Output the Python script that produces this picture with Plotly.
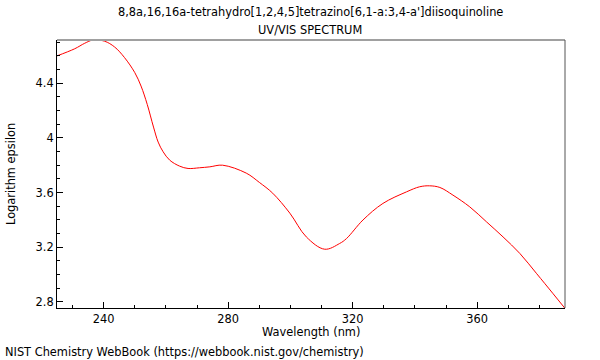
import plotly.graph_objects as go

wavelength = [224.9, 230.7, 233.9, 236.6, 240.3, 243.5, 246.7, 250.0, 252.0, 254.0, 256.0,
              257.5, 259.1, 261.2, 264.4, 267.1, 270.8, 274.1, 278.2, 285.8, 290.0, 294.3, 299.8,
              305.1, 311.0, 315.8, 318.0, 323.3, 329.7, 337.3, 341.5, 344.7, 348.0, 352.2,
              357.6, 363.0, 368.3, 373.7, 379.0, 384.4, 388.1]
log_eps = [4.600, 4.653, 4.693, 4.717, 4.708, 4.666, 4.588, 4.478, 4.38, 4.245, 4.08,
           3.97, 3.899, 3.838, 3.794, 3.777, 3.782, 3.789, 3.801, 3.743, 3.675, 3.596, 3.450,
           3.276, 3.186, 3.228, 3.264, 3.400, 3.521, 3.606, 3.643, 3.650, 3.638, 3.582,
           3.496, 3.386, 3.276, 3.155, 3.010, 2.860, 2.756]

x_ticks = [240, 280, 320, 360]
y_ticks = [2.8, 3.2, 3.6, 4.0, 4.4]
y_tick_labels = ["2.8", "3.2", "3.6", "4", "4.4"]

title_line1 = "8,8a,16,16a-tetrahydro[1,2,4,5]tetrazino[6,1-a:3,4-a']diisoquinoline"
title_line2 = "UV/VIS SPECTRUM"
x_title = "Wavelength (nm)"
y_title = "Logarithm epsilon"
footer = "NIST Chemistry WebBook (https://webbook.nist.gov/chemistry)"

W, H = 600, 360
ML, MR, MT, MB = 57, 35, 40, 52
PW, PH = W - ML - MR, H - MT - MB
FS = 11.4


def px_x(px):
    return (px - ML) / PW


def px_y(py):
    return (H - MB - py) / PH


fig = go.Figure()
fig.add_trace(go.Scatter(x=wavelength, y=log_eps, mode="lines",
                         line=dict(color="#ff0000", width=1, shape="spline", smoothing=1.0),
                         hoverinfo="skip", showlegend=False))

fig.update_layout(
    width=W, height=H,
    margin=dict(l=ML, r=MR, t=MT, b=MB, autoexpand=False),
    paper_bgcolor="white", plot_bgcolor="white",
    font=dict(family="DejaVu Sans", size=FS, color="black"),
    showlegend=False,
    xaxis=dict(range=[225, 388.2], tickvals=x_ticks, ticktext=[str(v) for v in x_ticks],
               ticks="inside", ticklen=6, tickcolor="black", tickwidth=1,
               minor=dict(dtick=10, tick0=0, ticks="inside", ticklen=3, tickcolor="black"),
               showgrid=False, zeroline=False, showline=True, linecolor="black", linewidth=1,
               automargin=False, tickfont=dict(size=FS)),
    yaxis=dict(range=[2.756, 4.717], tickvals=y_ticks, ticktext=y_tick_labels,
               ticks="inside", ticklen=6, tickcolor="black", tickwidth=1,
               minor=dict(dtick=0.1, tick0=0, ticks="inside", ticklen=3, tickcolor="black"),
               showgrid=False, zeroline=False, showline=True, linecolor="black", linewidth=1,
               automargin=False, tickfont=dict(size=FS)),
    shapes=[
        dict(type="line", xref="paper", yref="paper", x0=0, x1=1, y0=1, y1=1,
             line=dict(color="#a0a0a0", width=2)),
        dict(type="line", xref="paper", yref="paper", x0=1, x1=1, y0=0, y1=1,
             line=dict(color="#555555", width=1)),
    ],
)

anns = [
    dict(text=title_line1, x=px_x(310), y=px_y(12), xanchor="center"),
    dict(text=title_line2, x=px_x(310), y=px_y(30), xanchor="center"),
    dict(text=x_title, x=px_x(311), y=px_y(332), xanchor="center"),
    dict(text=footer, x=px_x(3), y=px_y(352), xanchor="left"),
    dict(text=y_title, x=px_x(11), y=px_y(174), xanchor="center", textangle=-90),
]
for a in anns:
    a.update(xref="paper", yref="paper", showarrow=False, yanchor="middle",
             font=dict(size=FS))
fig.update_layout(annotations=anns)

fig.write_html("out.html", config={"displayModeBar": False},
               post_script="document.body.style.margin='0';document.body.style.overflow='hidden';")
